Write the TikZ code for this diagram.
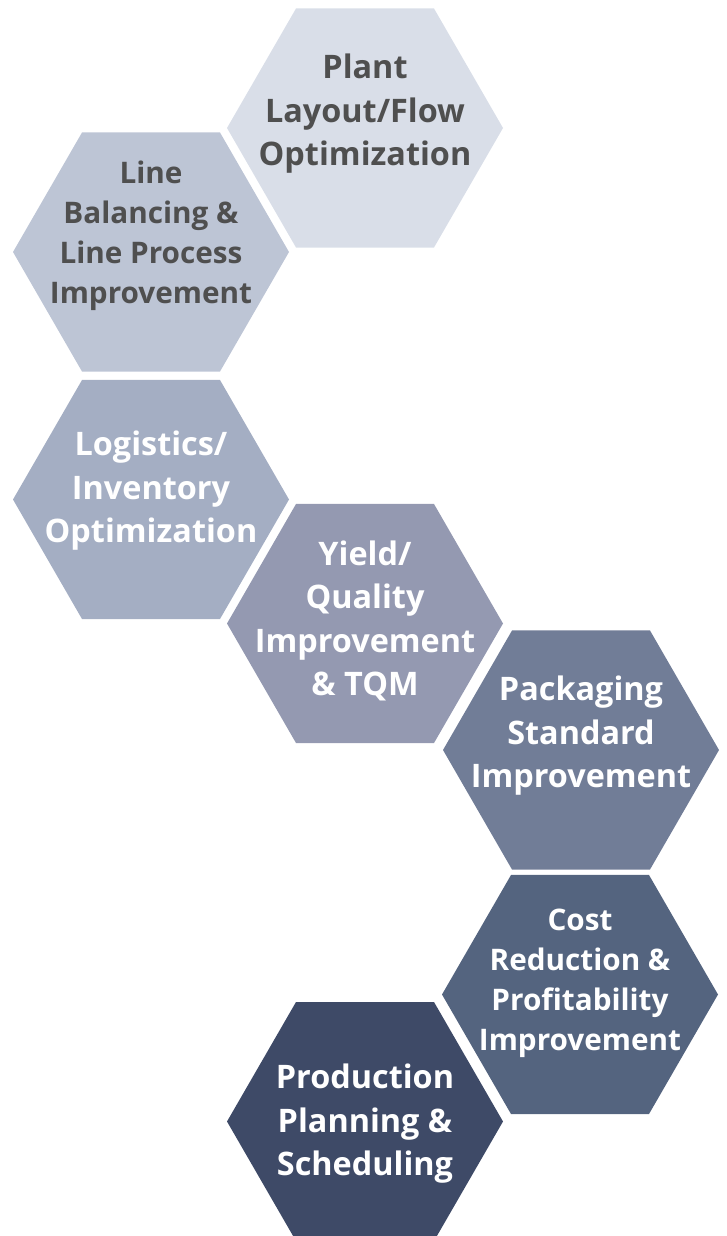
\documentclass[tikz,border=0pt]{standalone}
\usepackage{fontspec}
\setmainfont{Open Sans}
\usepackage{tikz}
\usetikzlibrary{
    positioning,
    shapes.geometric
}
\definecolor{tileOne}{HTML}{D9DEE8}
\definecolor{tileTwo}{HTML}{BDC5D5}
\definecolor{tileThree}{HTML}{A4AEC3}
\definecolor{tileFour}{HTML}{9499B1}
\definecolor{tileFive}{HTML}{717D97}
\definecolor{tileSix}{HTML}{54647F}
\definecolor{tileSeven}{HTML}{3E4A67}
\definecolor{textGray}{HTML}{4F4F4F}

\tikzset{
    hexTile/.style={regular polygon, regular polygon sides=6, minimum size=276pt, inner sep=0pt, draw=none},
    tileText/.style={align=center, inner sep=0pt, font=\fontsize{32.4}{43.5}\selectfont\bfseries},
    smallText/.style={align=center, inner sep=0pt, font=\fontsize{29.7}{40}\selectfont\bfseries}
}

\begin{document}
\begin{tikzpicture}[x=1pt, y=-1pt]
            \useasboundingbox (0,0) rectangle (726,1236);
            % hexagons
            \node[hexTile, fill=tileOne] (plant) at (365,128) {};
            \node[hexTile, fill=tileTwo] (line) at (151,252) {};
            \node[hexTile, fill=tileThree] (logistics) at (151,499.5) {};
            \node[hexTile, fill=tileFour] (yield) at (365,623.5) {};
            \node[hexTile, fill=tileFive] (packaging) at (581,750) {};
            \node[hexTile, fill=tileSix] (cost) at (580,994.5) {};
            \node[hexTile, fill=tileSeven] (production) at (365,1121.5) {};
            
            % labels
            \node[tileText, text=textGray] (plantText) at (365,114) {Plant\\Layout/Flow\\Optimization};
            \node[smallText, text=textGray] (lineText) at (151,236) {Line\\Balancing \&\\Line Process\\Improvement};
            \node[tileText, text=white] (logisticsText) at (151,491) {Logistics/\\Inventory\\Optimization};
            \node[tileText, text=white] (yieldText) at (365,621) {Yield/\\Quality\\Improvement\\\& TQM};
            \node[tileText, text=white] (packagingText) at (581,736) {Packaging\\Standard\\Improvement};
            \node[smallText, text=white] (costText) at (580,983) {Cost\\Reduction \&\\Profitability\\Improvement};
            \node[tileText, text=white] (productionText) at (365,1124) {Production\\Planning \&\\Scheduling};
        \end{tikzpicture}
\end{document}
